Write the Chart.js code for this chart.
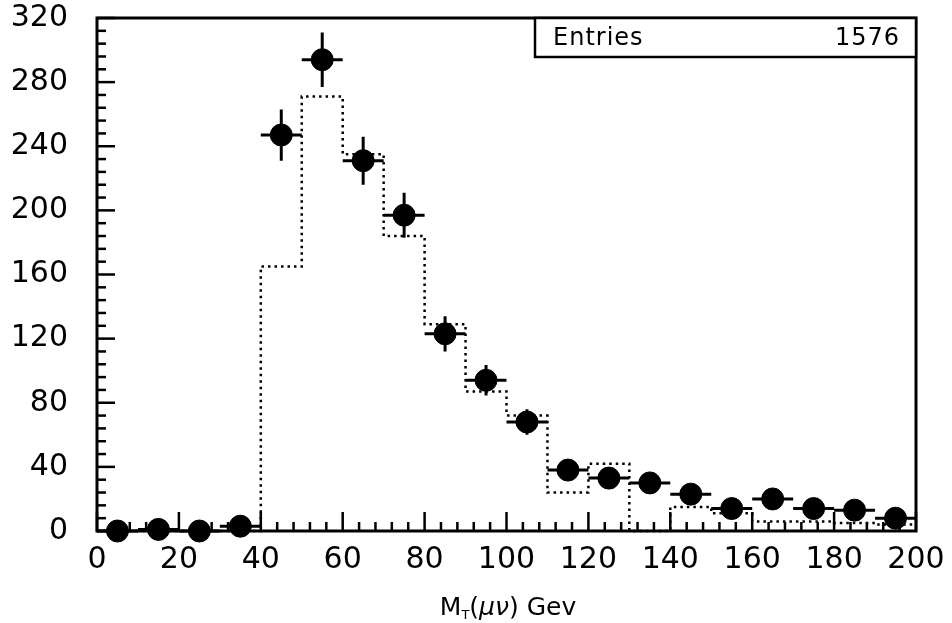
<!DOCTYPE html>
<html>
<head>
<meta charset="utf-8">
<script src="https://cdn.jsdelivr.net/npm/chart.js@4.4.0/dist/chart.umd.min.js"></script>
<style>
  html, body { margin: 0; padding: 0; background: #fff; }
  canvas { display: block; }
</style>
</head>
<body>
<canvas id="mtChart" width="952" height="623"></canvas>
<script>
// data: 10 GeV bins from 0 to 200
const binCenters = [5, 15, 25, 35, 45, 55, 65, 75, 85, 95, 105, 115, 125, 135, 145, 155, 165, 175, 185, 195];
const counts     = [0, 1, 0, 3, 247, 294, 231, 197, 123, 94, 68, 38, 33, 30, 23, 14, 20, 14, 13, 8];
const errors     = [1, 1, 1, 2, 16, 17, 15, 14, 11, 9.5, 8, 6, 6, 5.5, 5, 4, 4.5, 4, 3.5, 3];
const binEdges   = [0, 10, 20, 30, 40, 50, 60, 70, 80, 90, 100, 110, 120, 130, 140, 150, 160, 170, 180, 190, 200];
const expected   = [0, 0, 0, 0, 165, 271, 235, 184, 129, 87, 72, 24, 42, 0, 15, 11, 6, 6, 5, 4];
const xTicks = [0, 20, 40, 60, 80, 100, 120, 140, 160, 180, 200];
const yTicks = [0, 40, 80, 120, 160, 200, 240, 280, 320];
const entries = 1576;
const halfBin = 5;

const FONT = '"DejaVu Sans", sans-serif';

// step histogram points: one per lower edge plus closing point at 200
const histPoints = binEdges.map((e, i) => ({ x: e, y: expected[Math.min(i, expected.length - 1)] }));

const framePlugin = {
  id: 'frame',
  beforeDatasetsDraw(chart) {
    const { ctx, chartArea: a, scales: { x, y } } = chart;
    ctx.save();
    ctx.strokeStyle = '#000';
    ctx.lineWidth = 2.5;
    for (let v = 0; v <= 320; v += 8) {
      const py = y.getPixelForValue(v);
      const len = v % 40 === 0 ? 18 : 9;
      ctx.beginPath(); ctx.moveTo(a.left, py); ctx.lineTo(a.left + len, py); ctx.stroke();
    }
    for (let v = 0; v <= 200; v += 4) {
      const px = x.getPixelForValue(v);
      const len = v % 20 === 0 ? 19 : 9;
      ctx.beginPath(); ctx.moveTo(px, a.bottom); ctx.lineTo(px, a.bottom - len); ctx.stroke();
    }
    ctx.lineWidth = 3;
    ctx.strokeRect(a.left, a.top, a.right - a.left, a.bottom - a.top);
    ctx.restore();
  },
  afterDatasetsDraw(chart) {
    const { ctx, chartArea: a, scales: { x, y } } = chart;
    const pts = chart.getDatasetMeta(1).data;
    ctx.save();
    ctx.strokeStyle = '#000';
    ctx.lineWidth = 3;
    binCenters.forEach((c, i) => {
      const px = pts[i].x, py = pts[i].y;
      ctx.beginPath();
      ctx.moveTo(x.getPixelForValue(c - halfBin), py);
      ctx.lineTo(x.getPixelForValue(c + halfBin), py);
      ctx.moveTo(px, y.getPixelForValue(counts[i] + errors[i]));
      ctx.lineTo(px, y.getPixelForValue(Math.max(0, counts[i] - errors[i])));
      ctx.stroke();
    });

    // stats box
    const bx = 535, by = a.top, bh = 39;
    ctx.fillStyle = '#fff';
    ctx.fillRect(bx, by, a.right - bx, bh);
    ctx.lineWidth = 2.5;
    ctx.strokeRect(bx, by, a.right - bx, bh);
    ctx.fillStyle = '#000';
    ctx.font = '24px ' + FONT;
    ctx.textBaseline = 'middle';
    ctx.textAlign = 'left';
    ctx.letterSpacing = '1px';
    ctx.fillText('Entries', bx + 18, by + bh / 2 + 1);
    ctx.textAlign = 'right';
    ctx.fillText(String(entries), a.right - 16, by + bh / 2 + 1);
    ctx.restore();
  },
  afterDraw(chart) {
    // x axis title  M_T(μν) Gev
    const { ctx } = chart;
    const parts = [
      { t: 'M', f: '25px ' + FONT, dy: 0 },
      { t: 'T', f: '13px ' + FONT, dy: 4 },
      { t: '(', f: '25px ' + FONT, dy: 0 },
      { t: 'μν', f: 'italic 25px ' + FONT, dy: 0 },
      { t: ') Gev', f: '25px ' + FONT, dy: 0 }
    ];
    ctx.save();
    ctx.fillStyle = '#000';
    ctx.textBaseline = 'alphabetic';
    ctx.textAlign = 'left';
    let w = 0;
    parts.forEach(p => { ctx.font = p.f; p.w = ctx.measureText(p.t).width; w += p.w; });
    let cx = 508 - w / 2;
    parts.forEach(p => { ctx.font = p.f; ctx.fillText(p.t, cx, 615 + p.dy); cx += p.w; });
    ctx.restore();
  }
};

new Chart(document.getElementById('mtChart'), {
  type: 'scatter',
  data: {
    datasets: [
      {
        type: 'line', label: 'expected', data: histPoints, stepped: 'before',
        borderColor: '#000', borderWidth: 2.5, borderDash: [2.5, 4], pointRadius: 0,
        fill: false, clip: false
      },
      {
        label: 'data', data: binCenters.map((c, i) => ({ x: c, y: counts[i] })),
        backgroundColor: '#000', borderColor: '#000', pointRadius: 11, pointHoverRadius: 11,
        clip: false
      }
    ]
  },
  options: {
    responsive: false,
    animation: false,
    devicePixelRatio: 1,
    layout: { padding: { top: 18, right: 36, left: 0, bottom: 0 } },
    plugins: { legend: { display: false }, tooltip: { enabled: false } },
    scales: {
      x: {
        type: 'linear', min: 0, max: 200,
        afterBuildTicks: s => { s.ticks = xTicks.map(v => ({ value: v })); },
        afterFit: s => { s.height = 92; s.paddingLeft = 0; s.paddingRight = 0; },
        grid: { display: false }, border: { display: false },
        ticks: { color: '#000', font: { family: FONT, size: 30 }, padding: 3, maxRotation: 0, autoSkip: false }
      },
      y: {
        min: 0, max: 320,
        afterBuildTicks: s => { s.ticks = yTicks.map(v => ({ value: v })); },
        afterFit: s => { s.width = 97; s.paddingTop = 0; s.paddingBottom = 0; },
        grid: { display: false }, border: { display: false },
        ticks: { color: '#000', font: { family: FONT, size: 30 }, padding: 21 }
      }
    }
  },
  plugins: [framePlugin]
});
</script>
</body>
</html>
